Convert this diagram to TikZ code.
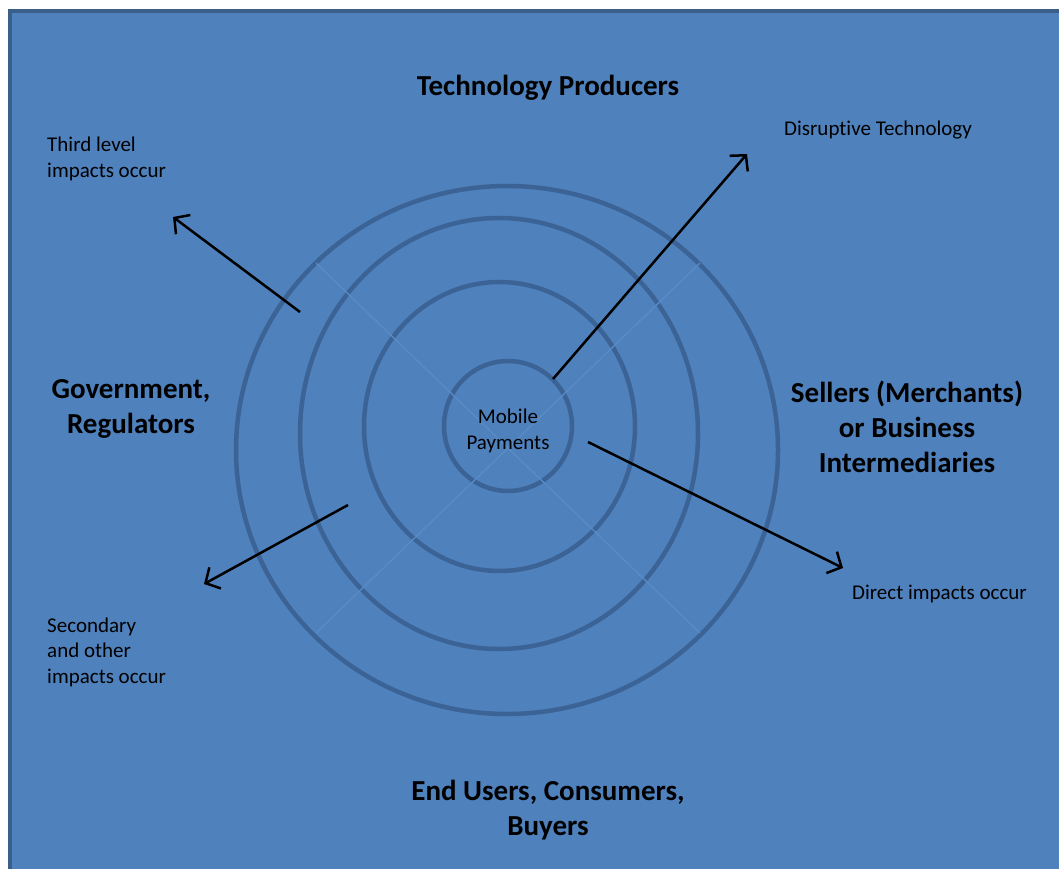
\documentclass[tikz,border=0pt]{standalone}
\usepackage{fontspec}
\setmainfont{Carlito}[Ligatures=NoCommon]
\usetikzlibrary{positioning, arrows.meta}
\definecolor{panelblue}{HTML}{4F81BD}
\definecolor{ringblue}{HTML}{3B6395}
\definecolor{edgeblue}{HTML}{3A5F8B}
\definecolor{crossblue}{HTML}{5A8CC8}
\tikzstyle{group} = [font=\fontsize{29}{35}\selectfont\bfseries, align=center, inner sep=0pt]
\tikzstyle{note} = [font=\fontsize{21}{25.6}\selectfont, align=left, inner sep=0pt, anchor=west]
\tikzstyle{ring} = [draw=ringblue, line width=4.5pt]
\tikzstyle{spoke} = [draw=crossblue, line width=1.2pt]
\tikzstyle{arrow} = [line width=2.5pt, -{Straight Barb[length=11pt, width=24pt]}]

\begin{document}
\begin{tikzpicture}[x=1pt, y=-1pt]
\useasboundingbox (0,0) rectangle (1059,869);
\clip (0,0) rectangle (1059,869);

% panel
\draw[fill=panelblue, draw=edgeblue, line width=4pt] (10,11) rectangle (1085,895);

% rings
\draw[ring] (508,426) ellipse [x radius=64pt, y radius=65pt];
\draw[ring] (499.5,426.5) ellipse [x radius=135.5pt, y radius=144.5pt];
\draw[ring] (499,433.5) ellipse [x radius=199pt, y radius=215.5pt];
\draw[ring] (507,450) ellipse [x radius=271pt, y radius=264pt];

% faint cross
\coordinate (crossNW) at (316,263);
\coordinate (crossNE) at (700,263);
\coordinate (crossSW) at (316,633);
\coordinate (crossSE) at (700,633);
\draw[spoke] (crossNW) -- (crossSE);
\draw[spoke] (crossNE) -- (crossSW);

\node (mobile) [font=\fontsize{21}{25.6}\selectfont, align=center, inner sep=0pt] at (508,431) {Mobile\\Payments};

\node (techprod) [group] at (548,88) {Technology Producers};
\node (govreg) [group] at (131,409) {Government,\\Regulators};
\node (sellers) [group] at (907,427) {Sellers (Merchants)\\or Business\\Intermediaries};
\node (endusers) [group] at (548,810) {End Users, Consumers,\\Buyers};

\node (thirdlvl) [note] at (47,159) {Third level\\impacts occur};
\node (disrupt) [note] at (784,130) {Disrupt\kern0pt ive Technology};
\node (direct) [note] at (852,594) {Direct impacts occur};
\node (secondary) [note] at (47,652) {Secondary\\and other\\impacts occur};

% arrows
\coordinate (disStart) at (553,379);
\coordinate (disEnd) at (747,154);
\coordinate (thirdStart) at (300,312);
\coordinate (thirdEnd) at (173,217);
\coordinate (secStart) at (348,505);
\coordinate (secEnd) at (204,584);
\coordinate (dirStart) at (588,442);
\coordinate (dirEnd) at (843,568);

\draw [arrow] (disStart) -- (disEnd);
\draw [arrow] (thirdStart) -- (thirdEnd);
\draw [arrow] (secStart) -- (secEnd);
\draw [arrow] (dirStart) -- (dirEnd);

\end{tikzpicture}
\end{document}
